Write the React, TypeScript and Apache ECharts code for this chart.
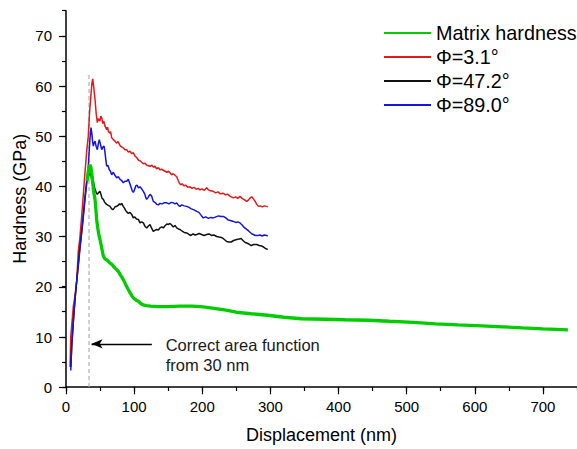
import React, { useEffect, useRef } from "react";
import * as echarts from "echarts";

const FONT = "'Liberation Sans', Arial, Helvetica, sans-serif";

const seriesNames = ["Matrix hardness", "Φ=3.1°", "Φ=47.2°", "Φ=89.0°"];
const seriesColors = ["#00cc00", "#e31a1c", "#111111", "#1515e0"];
const seriesWidths = [3.3, 1.5, 1.5, 1.5];

const matrixData: [number, number][] = [
  [31, 41], [33, 43.3], [35.2, 44.3], [36.5, 43.8], [37.7, 42.7], [39, 41], [40.5, 39], [42.6, 37.4],
  [44, 35.2], [45, 33.4], [46.5, 31.8], [48, 30.5], [49.9, 29.4], [52, 28], [54.8, 26.1], [57, 25.6],
  [60, 25.3], [62.5, 25], [64.6, 24.7], [67, 24.5], [70, 24], [72, 23.7], [74.4, 23.4], [77, 23],
  [80, 22.3], [82, 21.9], [84.1, 21.4], [87, 20.6], [90, 19.8], [93.9, 18.8], [97, 18.1], [100, 17.6],
  [103, 17.3], [106.2, 17.1], [110, 16.6], [114.6, 16.3], [118.4, 16.2], [124.3, 16.1], [135, 16],
  [150, 16.0], [167.3, 16.1], [185, 16.1], [198, 16], [215, 15.7], [235, 15.3], [250, 14.9],
  [271.8, 14.6], [296, 14.3], [320, 13.9], [345.6, 13.6], [380, 13.5], [410, 13.4], [444, 13.3],
  [475, 13.1], [510, 12.9], [542.4, 12.6], [575, 12.4], [610, 12.2], [640.7, 12.0], [670, 11.8],
  [700, 11.6], [720, 11.5], [736.6, 11.4],
];

const phi31Data: [number, number][] = [
  [6, 4], [7, 10], [10.7, 16], [13, 18], [15.7, 21], [18, 27], [20.5, 30], [23, 34], [25.5, 38.5],
  [28, 43], [30.4, 47], [32.7, 50], [34.5, 54.5], [36.5, 58], [38, 60.5], [39.2, 61.4], [40.5, 60],
  [42.6, 57.3], [44.3, 54.5], [46, 52.7], [47.5, 53.5], [49.9, 53], [51, 54], [52.4, 53.7], [54, 52.5],
  [55.5, 53], [57.2, 52], [59.7, 51.3], [61, 51.8], [62.1, 51], [64, 50.6], [65.5, 50.9], [67, 49.7],
  [69.4, 49.3], [71.9, 49], [74, 48.6], [76.5, 48.9], [79.3, 48.1], [82, 47.8], [84.5, 47.6],
  [86.6, 47.3], [89.1, 47.3], [91.5, 46.8], [93.9, 47], [96.5, 46.5], [98.8, 46.7], [101.3, 46],
  [104, 45.7], [106.5, 45.2], [108.6, 45.1], [111, 44.8], [113.5, 44.5], [116, 44.6], [118.4, 44.2],
  [121, 44.1], [123.3, 44], [126, 44.2], [128.5, 43.8], [130.6, 44], [133, 43.5], [135.5, 43.7],
  [137.9, 43.3], [140.5, 43.4], [142.8, 43.2], [145.5, 43.0], [148, 42.8], [150.5, 43], [152.6, 42.7],
  [155, 42.3], [157.5, 42.5], [160, 42.2], [162.5, 41.9], [164.5, 41.2], [166.5, 40.6], [168.5, 40.3],
  [170.5, 40.5], [173, 40.1], [176, 40.2], [178.5, 39.8], [181.9, 39.9], [185, 39.6], [188, 39.8],
  [191, 39.4], [194, 39.6], [196.7, 39.3], [199.5, 39.5], [203, 39.2], [206.5, 39.7], [209, 39.3],
  [212, 39.1], [216.2, 39], [219.5, 38.7], [223, 38.9], [226.5, 38.5], [230.9, 38.6], [234, 38.3],
  [237.5, 38.4], [241, 38], [245.6, 37.7], [249, 37.9], [252, 37.6], [255.4, 38], [258.5, 37.6],
  [262, 37.3], [265.2, 37], [268, 37.3], [270.5, 37.7], [272.6, 37.9], [275, 37.5], [277.5, 37],
  [280, 36.4], [282.3, 36], [285, 36.1], [288, 35.9], [291, 36.1], [294.6, 36], [296, 35.9],
];

const phi472Data: [number, number][] = [
  [7, 4], [8.5, 8.5], [10.7, 13], [13.2, 17.5], [15.6, 21], [18, 24.5], [20.5, 28], [23, 31],
  [25.5, 34.5], [27.9, 38], [30.4, 41], [32.5, 42], [34, 42.3], [35.2, 42.7], [36.5, 42.2],
  [37.5, 41.5], [39.2, 42], [40.8, 40.5], [42.6, 39.4], [44.2, 38.8], [46, 38.4], [47.5, 38.7],
  [49.9, 39], [51.5, 38.3], [53, 37.6], [54.8, 37.4], [56.5, 36.9], [58, 36.6], [59.7, 36.4],
  [62, 36.2], [64.6, 36], [66.5, 35.6], [68, 35.4], [69.4, 35.4], [71, 35.7], [72.5, 36], [74.4, 36],
  [76.5, 36.2], [78.5, 36.5], [80, 36.3], [81.8, 36.6], [84, 36], [86, 35.6], [87.5, 35.2],
  [89.1, 34.9], [91.5, 34.6], [94, 34.8], [96.4, 34.4], [98.8, 33.7], [101, 33.9], [103.5, 33.5],
  [106.2, 33.4], [108.6, 32.7], [111, 32.9], [113.5, 32.7], [116, 32], [118.4, 31.7], [121, 32.1],
  [123.3, 32.4], [125.5, 31.7], [128.1, 31], [130.5, 31.2], [133.1, 31.4], [135.5, 31.3],
  [137.9, 31.7], [140.5, 31.9], [142.8, 31.7], [145, 32.1], [148, 32.5], [150.5, 32.4], [152.6, 32.6],
  [155, 32.3], [157.5, 31.9], [160, 32.2], [162.5, 31.7], [165, 31.5], [167.3, 31.4], [170, 31.1],
  [173.5, 30.8], [177.2, 30.7], [180.5, 30.4], [183.3, 30.2], [186.5, 30.5], [189.5, 30.3],
  [191.9, 30.4], [195.5, 30.6], [199, 30.4], [202.5, 30.2], [206.5, 30.4], [210, 30.5], [213.5, 30.2],
  [217, 30.3], [221.2, 30], [224.5, 29.9], [228, 29.8], [231.5, 29.5], [235.9, 29], [239, 28.9],
  [242.4, 28.9], [246, 29.2], [250.6, 29.4], [254, 29.5], [257, 29.6], [260.5, 29.1], [263, 28.8],
  [265.2, 28.7], [268.5, 28.5], [271.8, 28.2], [275.5, 28.4], [279.9, 28.4], [283.5, 28.2],
  [287, 28.1], [290, 27.9], [292.1, 27.7], [294.5, 27.5], [296, 27.4],
];

const phi890Data: [number, number][] = [
  [7, 3.3], [8.4, 8.1], [10.8, 13], [13.2, 17.4], [15.6, 21], [18, 24], [20.5, 27.5], [23, 30.7],
  [25.5, 34], [27.9, 37.4], [30.3, 40.5], [32.7, 44], [34, 47], [35.2, 49.5], [36.7, 51.7], [38, 50.5],
  [39, 49], [40.1, 48], [41.3, 48.6], [42.6, 49], [44.2, 48], [46, 47.3], [47.5, 48.5], [48.9, 49.3],
  [50.5, 48.4], [52.4, 47.3], [54, 47.8], [55.8, 48], [57, 47], [58.5, 45.2], [59.7, 44], [61.5, 44.2],
  [63.6, 43.3], [65.3, 43], [67, 42.3], [69.4, 42.8], [71.8, 42.2], [74.4, 41.7], [77, 41.9],
  [79.3, 41.4], [81.5, 41.2], [84.1, 40.7], [86.5, 41], [89.1, 41], [91.4, 41.4], [93.5, 40.6],
  [95.5, 39.8], [97.2, 39.1], [98.8, 38.8], [100.5, 39.3], [102.5, 40.1], [104.5, 40.2], [106.1, 39.7],
  [108.5, 39.9], [111, 39.5], [113.5, 39], [115.5, 38.5], [117, 37.8], [118.4, 37.4], [120.5, 37.8],
  [123.3, 38.4], [125.8, 38], [128.1, 37], [130.5, 36.8], [133.1, 36.4], [135.5, 36.3], [138, 36.6],
  [141, 36.5], [144, 36.7], [147.8, 36.7], [151, 36.5], [154.5, 36.8], [157.5, 36.7], [160, 36.5],
  [162.5, 36.7], [165, 36.2], [167.3, 36], [170, 36.3], [173.5, 36.1], [177.2, 36], [180.5, 35.8],
  [184, 35.5], [188, 35.3], [191.9, 35], [195, 34.8], [198.5, 34.2], [201.5, 33.7], [205, 33.9],
  [209, 33.6], [212.5, 33.8], [216.2, 33.7], [220, 33.9], [224, 34.1], [227.6, 34], [230.9, 34],
  [234.5, 33.7], [238, 33.3], [241.5, 33.2], [245.6, 33], [249, 32.8], [252, 32.9], [255.4, 32.7],
  [258.5, 32.3], [261.5, 31.8], [265.2, 31.4], [268, 31.1], [270.5, 30.8], [273, 30.5], [275, 30.4],
  [278, 30.2], [281.7, 30.2], [284.7, 30.3], [288, 30.1], [291, 30.3], [294.6, 30.2], [296, 30.1],
];

const guideLineData: [number, number][] = [[33.8, 0], [33.8, 62.6]];
const arrowFrom: [number, number] = [126, 8.6];
const arrowTo: [number, number] = [37.5, 8.6];
const annotationLines = ["Correct area function", "from 30 nm"];
const annotationAnchors: [number, number][] = [[146.3, 8.4], [146.3, 4.45]];

const xAxisName = "Displacement (nm)";
const yAxisName = "Hardness (GPa)";

export default function App() {
  const ref = useRef<HTMLDivElement>(null);
  useEffect(() => {
    if (!ref.current) return;
    const chart = echarts.init(ref.current, null, { renderer: "svg" });
    const W = 577, H = 449;
    const g1 = { left: 66, right: 0, top: 10.7, bottom: 61.7 };
    const plotW = W - g1.left - g1.right;
    const plotH = H - g1.top - g1.bottom;
    const g2 = {
      left: 66,
      bottom: 61.7,
      top: g1.top + (plotH * 5) / 75,
      right: W - (g1.left + (plotW * 700) / 750),
    };
    const axisLineStyle = { color: "#000", width: 1.5 };
    const allData = [matrixData, phi31Data, phi472Data, phi890Data];
    const z = [5, 3, 3, 4];
    const series: any[] = allData.map((d, i) => ({
      name: seriesNames[i],
      type: "line",
      data: d,
      symbol: "none",
      xAxisIndex: 0,
      yAxisIndex: 0,
      z: z[i],
      color: seriesColors[i],
      lineStyle: { color: seriesColors[i], width: seriesWidths[i] },
      itemStyle: { color: seriesColors[i] },
      silent: true,
    }));
    series.push({
      name: "guide",
      type: "line",
      data: guideLineData,
      symbol: "none",
      xAxisIndex: 0,
      yAxisIndex: 0,
      z: 1,
      lineStyle: { color: "#b0b0b0", width: 1.2, type: [4, 3] },
      silent: true,
      markLine: {
        silent: true,
        symbol: ["none", "arrow"],
        symbolSize: [7, 11],
        label: { show: false },
        lineStyle: { color: "#000", width: 1.3, type: "solid" },
        data: [[{ coord: arrowFrom }, { coord: arrowTo }]],
      },
    });

    chart.setOption({
      animation: false,
      backgroundColor: "#fff",
      grid: [
        { ...g1, containLabel: false },
        { ...g2, containLabel: false },
      ],
      legend: {
        data: seriesNames,
        orient: "vertical",
        left: 383,
        top: 23,
        padding: 0,
        itemWidth: 47,
        itemHeight: 14,
        itemGap: 4,
        selectedMode: false,
        itemStyle: { opacity: 0, borderWidth: 0 },
        textStyle: { fontSize: 19.8, lineHeight: 20, color: "#000", fontFamily: FONT },
      },
      xAxis: [
        {
          type: "value",
          gridIndex: 0,
          min: 0,
          max: 750,
          interval: 50,
          axisLine: { show: true, onZero: false, lineStyle: axisLineStyle },
          axisTick: { show: true, length: 4, lineStyle: { color: "#000", width: 1.2 } },
          axisLabel: { show: false },
          splitLine: { show: false },
          name: xAxisName,
          nameLocation: "middle",
          nameGap: 39,
          nameTextStyle: { fontSize: 18, color: "#000", fontFamily: FONT },
        },
        {
          type: "value",
          gridIndex: 1,
          min: 0,
          max: 700,
          interval: 100,
          axisLine: { show: false, onZero: false },
          axisTick: { show: true, length: 7, lineStyle: { color: "#000", width: 1.2 } },
          axisLabel: { show: true, fontSize: 15, color: "#000", margin: 12, fontFamily: FONT },
          splitLine: { show: false },
        },
      ],
      yAxis: [
        {
          type: "value",
          gridIndex: 0,
          min: 0,
          max: 75,
          interval: 5,
          axisLine: { show: true, onZero: false, lineStyle: axisLineStyle },
          axisTick: { show: true, length: 4, lineStyle: { color: "#000", width: 1.2 } },
          axisLabel: { show: false },
          splitLine: { show: false },
          name: yAxisName,
          nameLocation: "middle",
          nameGap: 37,
          nameTextStyle: { fontSize: 18, color: "#000", fontFamily: FONT },
        },
        {
          type: "value",
          gridIndex: 1,
          min: 0,
          max: 70,
          interval: 10,
          axisLine: { show: false, onZero: false },
          axisTick: { show: true, length: 7, lineStyle: { color: "#000", width: 1.2 } },
          axisLabel: { show: true, fontSize: 15, color: "#000", margin: 14, fontFamily: FONT },
          splitLine: { show: false },
        },
      ],
      series,
    });

    const graphics = annotationLines.map((t, i) => {
      const p = chart.convertToPixel({ gridIndex: 0 }, annotationAnchors[i]) as number[];
      return {
        type: "text",
        x: p[0],
        y: p[1],
        silent: true,
        style: {
          text: t,
          fill: "#1a1a1a",
          fontSize: 16.5,
          fontFamily: FONT,
          textAlign: "left",
          textVerticalAlign: "middle",
        },
      };
    });
    chart.setOption({ graphic: graphics });

    return () => chart.dispose();
  }, []);

  return (
    <div
      ref={ref}
      style={{ position: "fixed", left: 0, top: 0, width: 577, height: 449, background: "#fff" }}
    />
  );
}
